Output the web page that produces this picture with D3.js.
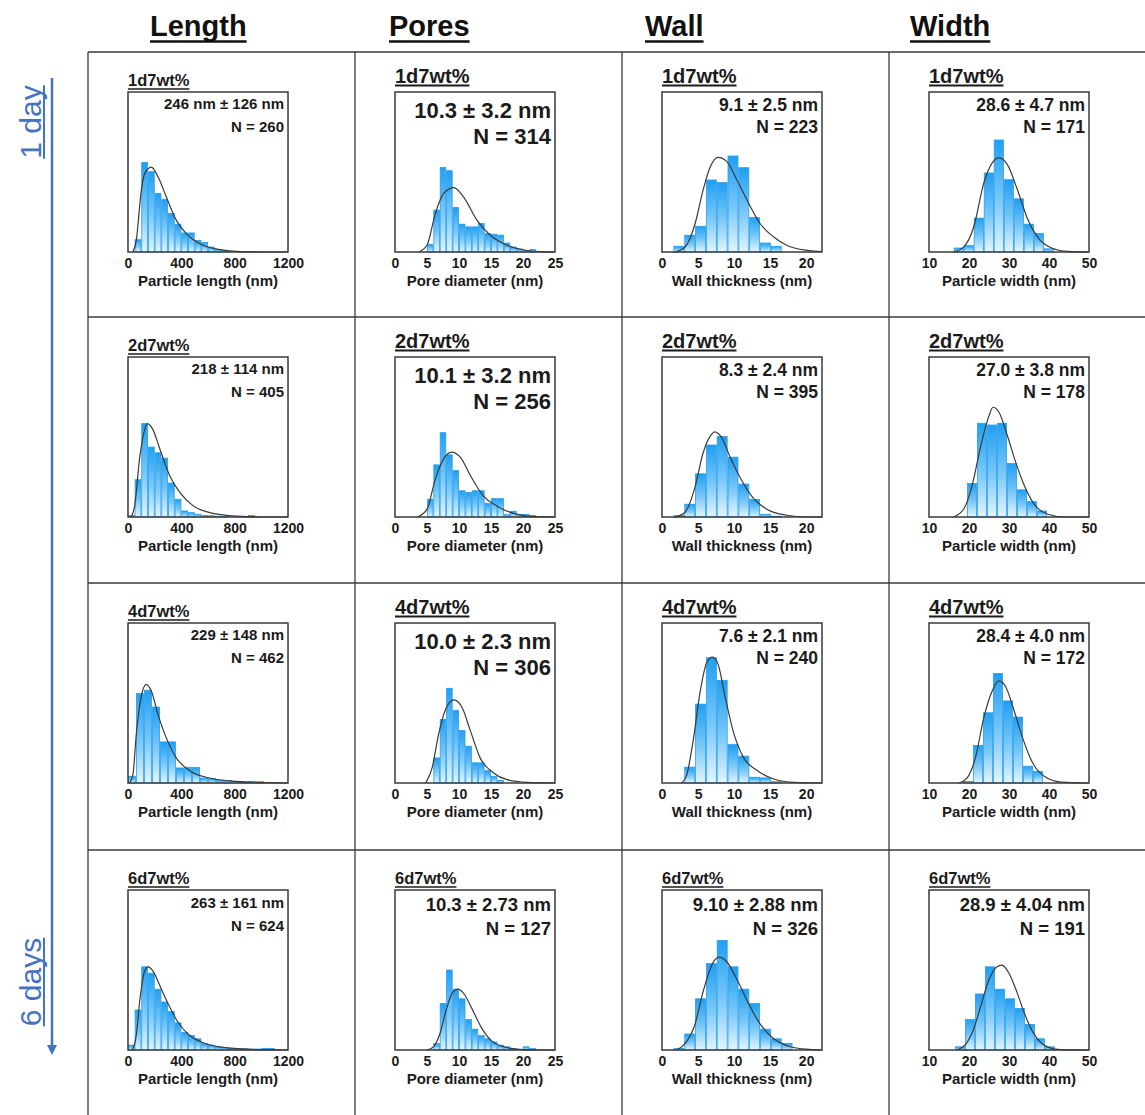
<!DOCTYPE html>
<html>
<head>
<meta charset="utf-8">
<script src="https://cdn.jsdelivr.net/npm/d3@7"></script>
<style>
  body { margin: 0; background: #fff; }
  svg { display: block; }
  text { font-family: "Liberation Sans", Arial, Helvetica, sans-serif; }
</style>
</head>
<body>
<svg id="chart" width="1145" height="1115"></svg>
<script>
// ---- Categories ----------------------------------------------------------
const samples = ["1d7wt%", "2d7wt%", "4d7wt%", "6d7wt%"];
const measures = ["Length", "Pores", "Wall", "Width"];
const axisTitles = ["Particle length (nm)", "Pore diameter (nm)", "Wall thickness (nm)", "Particle width (nm)"];
const timeLabels = ["1 day", "6 days"];

// ---- Axis ranges and tick labels ----------------------------------------
const lengthRange = [0, 1200];
const poreRange = [0, 25];
const wallRange = [0, 22.2];
const widthRange = [10, 50];
const lengthTicks = [0, 400, 800, 1200];
const poreTicks = [0, 5, 10, 15, 20, 25];
const wallTicks = [0, 5, 10, 15, 20];
const widthTicks = [10, 20, 30, 40, 50];

// ---- Histograms: relative frequency (0-100 scale of the hidden y axis) ----
const lengthBinStart = [50, 0, 0, 0];
const lengthBinWidth = [50, 50, 60, 50];
const lengthFreq = [
  [7.7, 55.9, 50.2, 36.6, 32.8, 24.1, 17.4, 11.9, 11.9, 7.3, 5.9, 3.1, 1.5, 1.0],
  [1, 23.3, 58.4, 43.7, 40.1, 36.8, 21.2, 11.1, 3.8, 2.7, 1.7, 1, 0.8, 0.5, 0.4, 0, 0, 0.3, 1],
  [4.2, 55.9, 58, 47.5, 25.7, 25.7, 9.4, 9.8, 9.8, 3.1, 2.7, 1.5, 1.5, 1, 0.6, 0.8, 0.8],
  [3, 25, 52, 48, 38, 30, 24, 17, 11, 9, 7, 4, 3, 2, 1.5, 1, 1, 0.8, 0.5, 0.5, 1, 1]
];
const poreBinStart = [5, 5, 6, 6];
const poreBinWidth = [1, 1, 1, 1];
const poreFreq = [
  [4.8, 26.2, 52.9, 50.8, 27.8, 17.4, 15.7, 15.7, 17.8, 11.5, 11.1, 10.5, 5.6, 3.1, 1.9, 1.0, 1.5],
  [11.1, 32.6, 52.7, 38.9, 29, 16.4, 15.3, 16.4, 16.4, 8.6, 11.5, 11.5, 1.5, 3.6, 1.7, 1.5, 1],
  [15.7, 39.7, 59.2, 45.4, 32.8, 23, 12.6, 12.6, 7.7, 4.2, 1.5],
  [4, 29, 50, 38, 32, 19, 13, 9, 7, 5, 3, 2, 1, 0, 2, 1]
];
const wallBinStart = [1.6, 1.6, 3.1, 1.6];
const wallBinWidth = [1.5, 1.5, 1.5, 1.5];
const wallFreq = [
  [3.6, 10.5, 16.1, 45, 43.5, 60, 52.7, 21.5, 5.6, 3.6],
  [1, 8, 27, 45, 50.4, 37.4, 20.6, 11, 1.7, 0.5],
  [9.9, 49.3, 78.3, 64.2, 24, 16.8, 3.6, 3.2, 0.8],
  [1, 10, 32, 54, 68.5, 52, 38, 29, 13, 7, 4]
];
const widthBinStart = [16.2, 19.5, 18.5, 16.5];
const widthBinWidth = [2.5, 2.5, 2.5, 2.5];
const widthFreq = [
  [2.5, 4, 21.2, 49.4, 70, 45.2, 33.2, 17.4, 11.6, 2],
  [21, 58.6, 57.5, 58.6, 33.5, 17, 9.6, 3.8],
  [1, 23.4, 43.9, 68.4, 51.3, 41.2, 10.5, 7.3],
  [2, 19, 35, 52, 38, 32, 26, 16, 7, 2]
];

// ---- Fitted distribution curves: [x, relative frequency] ----------------
const lengthFit = [
  [[37,0],[62,7.3],[100,38.7],[125,49],[175,53],[225,47],[287,34.5],[362,19.9],[437,11.5],[562,4.2],[687,1.5],[812,0.4],[1000,0],[1200,0]],
  [[25,0],[50,7],[87,36.6],[125,54.6],[145,58.4],[187,54.6],[237,43],[312,26],[387,15.5],[487,7.1],[637,2.3],[812,0.6],[1062,0],[1200,0]],
  [[12,0],[37,5.2],[62,30.3],[100,54.4],[137,61.7],[175,57.5],[225,42.9],[287,28.2],[362,15.7],[462,7.7],[612,3.1],[812,1],[1062,0.2],[1200,0]],
  [[30,0],[60,8],[90,32],[120,48],[150,52],[190,49],[240,40],[300,29],[370,18],[450,10],[550,5],[700,1.8],[900,0.5],[1100,0.1],[1200,0]]
];
const poreFit = [
  [[3.7,0],[5,4.2],[6.3,24],[7.6,36.6],[9.2,40.2],[10.7,34.5],[12.8,19.9],[14.9,10.5],[17,5.2],[19.6,1.7],[22.7,0.2],[25,0]],
  [[3.5,0],[5,4.8],[6.3,23.7],[7.6,36.3],[8.8,40.5],[10.2,37.4],[11.8,25.8],[13.8,13.2],[15.9,6.9],[18.5,2.3],[22.1,0.2],[25,0]],
  [[4.8,0],[5.8,9.4],[6.8,30.3],[7.9,46],[9.2,51.9],[10.5,47],[11.8,32.4],[13.3,15.7],[15.4,6.3],[17.5,2.1],[20.6,0.4],[25,0]],
  [[5,0],[6,2],[7,10],[8,25],[9,36],[9.8,38],[10.8,35],[12,26],[13.5,14],[15,6],[17,2],[19,0.5],[21,0],[25,0]]
];
const wallFit = [
  [[1.8,0],[3.2,3.1],[4.6,17.8],[5.7,38.7],[6.7,53.3],[7.8,59.2],[9.0,56.5],[10.4,45],[11.8,32.4],[13.6,17.8],[15.5,9.4],[17.3,4.2],[20.1,1],[22.2,0.3]],
  [[1.8,0],[3.2,3],[4.6,19],[5.7,40],[6.7,50.5],[7.3,53.2],[8.3,49.5],[9.4,38],[10.8,25],[12.7,11.6],[14.6,4.7],[17.3,1.1],[20.1,0],[22.2,0]],
  [[2.7,0],[3.4,4.6],[4.3,25.7],[5.3,57.3],[6.2,75.2],[7.0,78.7],[7.8,74],[8.7,55],[9.9,32],[11.3,16],[13.2,7.8],[15.5,2.5],[18.3,0.4],[22.2,0]],
  [[2,0],[3,3],[4.5,15],[5.8,38],[7,54],[7.9,58],[9,55],[10.3,45],[11.8,31],[13.5,17],[15.5,7],[17.5,2.5],[20,0.5],[22.2,0]]
];
const widthFit = [
  [[16.1,0],[18.7,3.2],[21.2,15.8],[23.7,43],[25.8,55.7],[27.5,58.8],[29.6,54.6],[32.1,38.9],[34.6,21],[37.1,9.5],[40.5,2.7],[44.7,0.4],[50,0]],
  [[16.1,0],[18.7,5],[20.8,19.9],[22.9,44],[25,63.2],[26,68.6],[27.5,65.5],[29.6,50.8],[31.7,34],[33.8,19.9],[36.3,8],[39.7,1.7],[43.9,0],[50,0]],
  [[17.4,0],[19.5,3.1],[21.6,15.7],[23.7,40.8],[25.8,57.5],[27.5,63.8],[29.2,60],[31.3,45],[33.4,28.2],[35.9,12.6],[38.8,4.2],[43,0.6],[50,0]],
  [[17,0],[19,3],[21,12],[23,28],[25,44],[27,52],[28.2,53],[30,48],[32,36],[34,22],[36,11],[38,4.5],[40,1.5],[43,0.2],[50,0]]
];

// ---- Summary statistics -------------------------------------------------
const lengthStats = ["246 nm \u00B1 126 nm", "218 \u00B1 114 nm", "229 \u00B1 148 nm", "263 \u00B1 161 nm"];
const lengthN = [260, 405, 462, 624];
const poreStats = ["10.3 \u00B1 3.2 nm", "10.1 \u00B1 3.2 nm", "10.0 \u00B1 2.3 nm", "10.3 \u00B1 2.73 nm"];
const poreN = [314, 256, 306, 127];
const wallStats = ["9.1 \u00B1 2.5 nm", "8.3 \u00B1 2.4 nm", "7.6 \u00B1 2.1 nm", "9.10 \u00B1 2.88 nm"];
const wallN = [223, 395, 240, 326];
const widthStats = ["28.6 \u00B1 4.7 nm", "27.0 \u00B1 3.8 nm", "28.4 \u00B1 4.0 nm", "28.9 \u00B1 4.04 nm"];
const widthN = [171, 178, 172, 191];

// ---- Per-column table built from the arrays above ------------------------
const columns = [
  { range: lengthRange, ticks: lengthTicks, start: lengthBinStart, width: lengthBinWidth, freq: lengthFreq, fit: lengthFit, stats: lengthStats, n: lengthN },
  { range: poreRange,   ticks: poreTicks,   start: poreBinStart,   width: poreBinWidth,   freq: poreFreq,   fit: poreFit,   stats: poreStats,   n: poreN },
  { range: wallRange,   ticks: wallTicks,   start: wallBinStart,   width: wallBinWidth,   freq: wallFreq,   fit: wallFit,   stats: wallStats,   n: wallN },
  { range: widthRange,  ticks: widthTicks,  start: widthBinStart,  width: widthBinWidth,  freq: widthFreq,  fit: widthFit,  stats: widthStats,  n: widthN }
];

// ---- Layout -------------------------------------------------------------
const W = 1145, H = 1115;
const cellX = [88, 355, 622, 889];
const cellY = [52, 317, 583, 850];
const boxSize = 160, boxInset = 40;
const headerX = [150, 389, 645, 910];
const ink = "#1b1b1b";
const accent = "#4472C4";
const FONT = '"Liberation Sans", Arial, Helvetica, sans-serif';

const svg = d3.select("#chart");
svg.append("rect").attr("width", W).attr("height", H).attr("fill", "#fff");

const defs = svg.append("defs");
const grad = defs.append("linearGradient").attr("id", "barFill")
  .attr("x1", 0).attr("y1", 0).attr("x2", 0).attr("y2", 1);
grad.append("stop").attr("offset", "0%").attr("stop-color", "#1f9ff2");
grad.append("stop").attr("offset", "55%").attr("stop-color", "#7cc9f8");
grad.append("stop").attr("offset", "100%").attr("stop-color", "#e4f5fe");

defs.append("marker").attr("id", "arrowHead")
  .attr("viewBox", "0 0 10 10").attr("refX", 5).attr("refY", 5)
  .attr("markerWidth", 4).attr("markerHeight", 4).attr("orient", "auto")
  .append("path").attr("d", "M0,0 L10,5 L0,10 Z").attr("fill", accent);

// table grid
const grid = svg.append("g").attr("stroke", "#3a3a3a").attr("stroke-width", 1.3);
cellX.forEach(x => grid.append("line").attr("x1", x).attr("x2", x).attr("y1", cellY[0]).attr("y2", H));
cellY.forEach(y => grid.append("line").attr("x1", cellX[0]).attr("x2", W).attr("y1", y).attr("y2", y));

// column headers
measures.forEach((m, c) => {
  const t = svg.append("text").attr("x", headerX[c]).attr("y", 36)
    .attr("font-size", 29).attr("font-weight", "bold").attr("fill", "#111").text(m);
  const len = t.node().getComputedTextLength();
  svg.append("line").attr("x1", headerX[c]).attr("x2", headerX[c] + len)
    .attr("y1", 41.5).attr("y2", 41.5).attr("stroke", "#111").attr("stroke-width", 2.4);
});

// time arrow and labels
svg.append("line").attr("x1", 52).attr("x2", 52).attr("y1", 78).attr("y2", 1050)
  .attr("stroke", accent).attr("stroke-width", 2.5).attr("marker-end", "url(#arrowHead)");
[[122, timeLabels[0]], [982, timeLabels[1]]].forEach(([cy, label]) => {
  const g = svg.append("g").attr("transform", `translate(41,${cy}) rotate(-90)`);
  const t = g.append("text").attr("text-anchor", "middle").attr("font-size", 30)
    .attr("fill", accent).text(label);
  const len = t.node().getComputedTextLength();
  g.append("line").attr("x1", -len / 2).attr("x2", len / 2).attr("y1", 3).attr("y2", 3)
    .attr("stroke", accent).attr("stroke-width", 2);
});

// per-row text sizing for the statistics block
function statStyle(r, c) {
  if (c === 0) return r < 3 ? { size: 15, y1: 17, y2: 40 } : { size: 15, y1: 18, y2: 41 };
  if (r === 3) return { size: 18.5, y1: 21, y2: 45 };
  if (c === 1) return { size: 22, y1: 25.5, y2: 51.5 };
  return { size: 17.5, y1: 19, y2: 40.5 };
}

const yScale = d3.scaleLinear().domain([0, 100]);

samples.forEach((sample, r) => {
  columns.forEach((col, c) => {
    const bx = cellX[c] + boxInset;
    const by = cellY[r] + boxInset;
    const x = d3.scaleLinear().domain(col.range).range([bx, bx + boxSize]);
    const y = yScale.copy().range([by + boxSize, by]);
    const g = svg.append("g");

    // sample label
    const small = (c === 0 || r === 3);
    const lblSize = small ? 16.5 : 20;
    const lblY = cellY[r] + (small ? 34 : 30.5);
    const lbl = g.append("text").attr("x", bx).attr("y", lblY)
      .attr("font-size", lblSize).attr("font-weight", "bold").attr("fill", ink).text(sample);
    const lblLen = lbl.node().getComputedTextLength();
    g.append("line").attr("x1", bx).attr("x2", bx + lblLen)
      .attr("y1", lblY + 3).attr("y2", lblY + 3)
      .attr("stroke", ink).attr("stroke-width", small ? 1.6 : 2);

    // histogram bars
    const bins = col.freq[r].map((v, i) => ({
      x0: col.start[r] + i * col.width[r],
      x1: col.start[r] + (i + 1) * col.width[r],
      v
    })).filter(d => d.v > 0);
    g.append("g").selectAll("rect").data(bins).join("rect")
      .attr("x", d => x(d.x0) + 0.4)
      .attr("width", d => Math.max(0.5, x(d.x1) - x(d.x0) - 0.8))
      .attr("y", d => y(d.v))
      .attr("height", d => y(0) - y(d.v))
      .attr("fill", "url(#barFill)")
      .attr("stroke", "#2a9ff0").attr("stroke-width", 0.8);

    // fitted curve
    const line = d3.line().x(d => x(d[0])).y(d => y(d[1])).curve(d3.curveMonotoneX);
    g.append("path").datum(col.fit[r]).attr("d", line)
      .attr("fill", "none").attr("stroke", "#3a3a3a").attr("stroke-width", 1.2);

    // frame
    g.append("rect").attr("x", bx).attr("y", by).attr("width", boxSize).attr("height", boxSize)
      .attr("fill", "none").attr("stroke", "#3a3a3a").attr("stroke-width", 1.5);

    // x axis
    const axis = g.append("g").attr("transform", `translate(0,${by + boxSize})`)
      .call(d3.axisBottom(x).tickValues(col.ticks).tickSize(0).tickPadding(6).tickFormat(d3.format("d")));
    axis.select(".domain").remove();
    axis.selectAll("text").attr("font-size", 14).attr("font-weight", "bold")
      .attr("fill", ink).attr("font-family", FONT);

    g.append("text").attr("x", bx + boxSize / 2).attr("y", by + boxSize + 34)
      .attr("text-anchor", "middle").attr("font-size", 15).attr("font-weight", "bold")
      .attr("fill", ink).text(axisTitles[c]);

    // statistics
    const s = statStyle(r, c);
    g.append("text").attr("x", bx + boxSize - 4).attr("y", by + s.y1)
      .attr("text-anchor", "end").attr("font-size", s.size).attr("font-weight", "bold")
      .attr("fill", ink).text(col.stats[r]);
    g.append("text").attr("x", bx + boxSize - 4).attr("y", by + s.y2)
      .attr("text-anchor", "end").attr("font-size", s.size).attr("font-weight", "bold")
      .attr("fill", ink).text(`N = ${col.n[r]}`);
  });
});
</script>
</body>
</html>
